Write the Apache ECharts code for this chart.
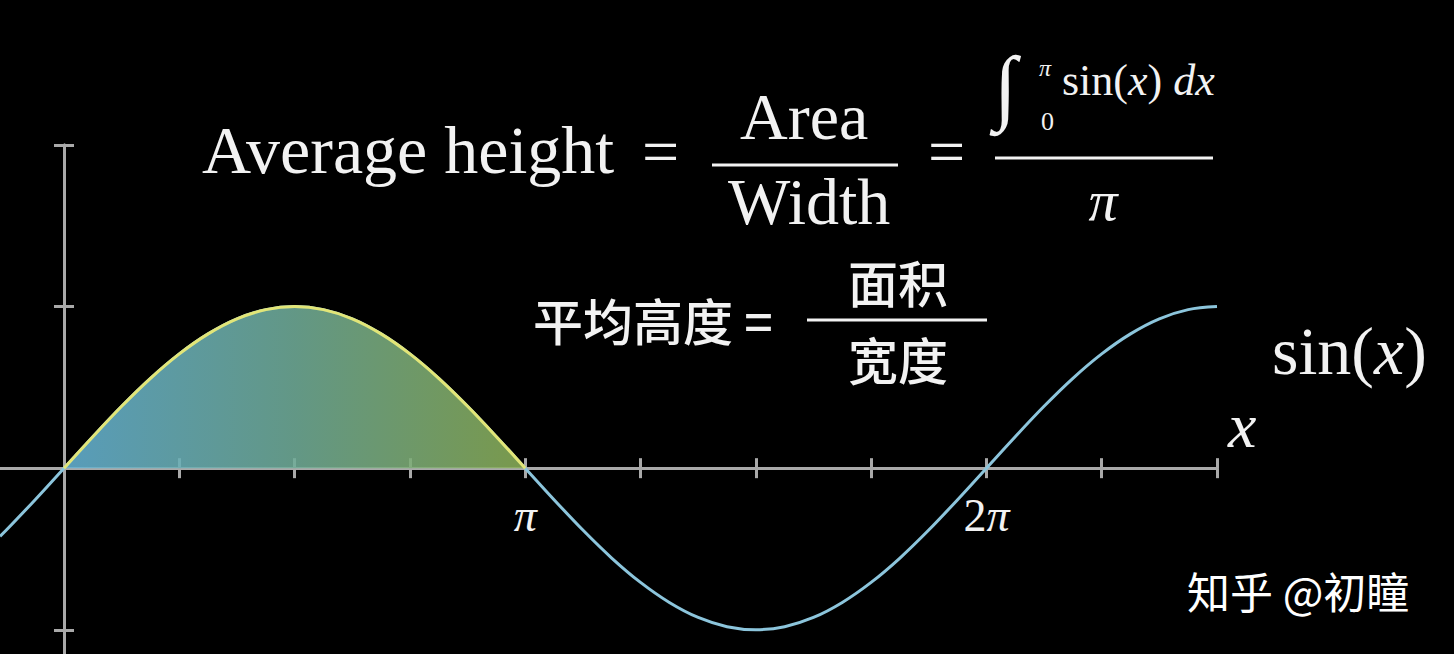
<!DOCTYPE html>
<html><head><meta charset="utf-8">
<script src="https://cdn.jsdelivr.net/npm/echarts@6/dist/echarts.min.js"></script>
<style>html,body{margin:0;padding:0;background:#000;overflow:hidden}#c{width:1454px;height:654px}</style>
</head><body><div id="c"></div>
<script>
// x in units of pi, y = height
const curveX = [-0.1388, -0.125, -0.0625, 0, 0.0625, 0.125, 0.1875, 0.25, 0.3125, 0.375, 0.4375, 0.5,
  0.5625, 0.625, 0.6875, 0.75, 0.8125, 0.875, 0.9375, 1, 1.0625, 1.125, 1.1875, 1.25, 1.3125, 1.375,
  1.4375, 1.5, 1.5625, 1.625, 1.6875, 1.75, 1.8125, 1.875, 1.9375, 2, 2.0625, 2.125, 2.1875, 2.25,
  2.3125, 2.375, 2.4375, 2.5];
const curveY = [-0.422, -0.383, -0.195, 0, 0.195, 0.383, 0.556, 0.707, 0.831, 0.924, 0.981, 1,
  0.981, 0.924, 0.831, 0.707, 0.556, 0.383, 0.195, 0, -0.195, -0.383, -0.556, -0.707, -0.831, -0.924,
  -0.981, -1, -0.981, -0.924, -0.831, -0.707, -0.556, -0.383, -0.195, 0, 0.195, 0.383, 0.556, 0.707,
  0.831, 0.924, 0.981, 1];
const areaFrom = 0, areaTo = 1;
const xTickValues = [0.25, 0.5, 0.75, 1, 1.25, 1.5, 1.75, 2, 2.25, 2.5];
const xLabelValues = [1, 2];
const xLabelTexts = ['π', '2π'];
const yTickValues = [-1, 1, 2];
const xRange = [-0.1388, 2.5];
const yRange = [-1.15, 2];

const curve = curveX.map((x, i) => [x, curveY[i]]);
const hump = curve.filter(p => p[0] >= areaFrom && p[0] <= areaTo);
const labelPoints = xLabelValues.map((v, i) => ({ value: [v, 0], name: xLabelTexts[i] }));

const AX = '#A9A9A9';
const serif = 'Liberation Serif';
const cjk = 'Noto Sans CJK SC';
const white = '#F2F2F2';

function xAxisDef(inside) {
  return {
    type: 'value', min: xRange[0], max: xRange[1], position: 'bottom',
    axisLine: { show: true, onZero: true, onZeroAxisIndex: 0, lineStyle: { color: AX, width: 3 } },
    axisTick: { show: true, inside: inside, length: 10, customValues: xTickValues, lineStyle: { color: AX, width: 3 } },
    axisLabel: { show: false },
    splitLine: { show: false }
  };
}
function yAxisDef(inside) {
  return {
    type: 'value', min: yRange[0], max: yRange[1], position: 'left',
    axisLine: { show: true, onZero: true, onZeroAxisIndex: 0, lineStyle: { color: AX, width: 3 } },
    axisTick: { show: true, inside: inside, length: 10, customValues: yTickValues, lineStyle: { color: AX, width: 3 } },
    axisLabel: { show: false },
    splitLine: { show: false }
  };
}

function txt(x, y, text, o) {
  o = o || {};
  const style = Object.assign({
    text: text, fill: o.fill || white,
    fontFamily: o.family || serif, fontSize: o.size || 66,
    fontStyle: o.style || 'normal', fontWeight: o.weight || 'normal',
    align: o.align || 'left', textAlign: o.align || 'left',
    verticalAlign: 'middle', textVerticalAlign: 'middle'
  }, o.rich ? { rich: o.rich } : {});
  return { type: 'text', x: x, y: y, z: 100, silent: true, style: style };
}
function bar(x1, x2, y) {
  return { type: 'line', z: 100, silent: true, shape: { x1: x1, y1: y, x2: x2, y2: y }, style: { stroke: white, lineWidth: 3 } };
}

const mathRich = (size, color) => ({
  r: { fontFamily: serif, fontSize: size, color: color },
  i: { fontFamily: serif, fontSize: size, fontStyle: 'italic', color: color }
});

const chart = echarts.init(document.getElementById('c'), null, { renderer: 'svg', width: 1454, height: 654 });
chart.setOption({
  backgroundColor: '#000',
  animation: false,
  grid: { left: 0, right: 237, top: 145, bottom: 0, containLabel: false, outerBoundsMode: 'none' },
  xAxis: [xAxisDef(false), xAxisDef(true)],
  yAxis: [yAxisDef(false), yAxisDef(true)],
  series: [
    {
      type: 'line', data: curve, symbol: 'none', smooth: 0.333, silent: true,
      lineStyle: { color: '#8CC5DC', width: 3, join: 'round' }, z: 3
    },
    {
      type: 'line', data: hump, symbol: 'none', smooth: 0.333, silent: true,
      lineStyle: { color: '#E2E577', width: 3, join: 'round' }, z: 4,
      areaStyle: {
        color: new echarts.graphic.LinearGradient(0, 0, 1, 0, [
          { offset: 0, color: 'rgba(100,178,212,0.88)' },
          { offset: 0.5, color: 'rgba(112,172,152,0.88)' },
          { offset: 1, color: 'rgba(138,174,86,0.88)' }
        ]), opacity: 1
      }
    },
    {
      type: 'scatter', data: labelPoints, symbol: 'circle', symbolSize: 1, silent: true, z: 5,
      itemStyle: { color: 'rgba(0,0,0,0)', opacity: 1 },
      label: {
        show: true, position: 'bottom', distance: 24, opacity: 1,
        formatter: p => p.name.replace(/(\d*)π/, (m, d) => (d ? '{n|' + d + '}' : '') + '{p|π}'),
        rich: {
          n: { fontFamily: serif, fontSize: 46, color: white },
          p: { fontFamily: serif, fontStyle: 'italic', fontSize: 46, color: white }
        }
      }
    }
  ],
  graphic: {
    elements: [
      txt(202, 150, 'Average height', { size: 68 }),
      txt(642, 151, '='),
      txt(740, 116, '{a|Ar}{b|ea}', { rich: {
        a: { fontFamily: serif, fontSize: 66, color: '#80B8CF' },
        b: { fontFamily: serif, fontSize: 66, color: '#90BAAE' } } }),
      bar(712, 898, 165),
      txt(728, 201, 'Width'),
      txt(928, 151, '='),
      txt(994, 86, '∫', { size: 83 }),
      txt(1039, 68, 'π', { size: 24, style: 'italic' }),
      txt(1041, 121, '0', { size: 26 }),
      txt(1062, 80, '{r|sin(}{i|x}{r|) }{i|dx}', { rich: mathRich(44, white) }),
      bar(995, 1213, 158),
      txt(1103, 200, 'π', { size: 58, style: 'italic', align: 'center' }),
      txt(533, 319, '平均高度 =', { family: cjk, size: 50, weight: 500 }),
      txt(848, 281, '{a|面}{b|积}', { rich: {
        a: { fontFamily: cjk, fontSize: 50, fontWeight: 500, color: '#7FB5CD' },
        b: { fontFamily: cjk, fontSize: 50, fontWeight: 500, color: '#8DB4A3' } } }),
      bar(807, 987, 320),
      txt(848, 358, '宽度', { family: cjk, size: 50, weight: 500 }),
      txt(1272, 351, '{r|sin(}{i|x}{r|)}', { rich: mathRich(68, '#89C2DA') }),
      txt(1228, 425, 'x', { size: 64, style: 'italic' }),
      txt(1187, 590, '知乎 @初瞳', { family: cjk, size: 43, weight: 'normal', fill: '#FFFFFF' })
    ]
  }
});
</script>
</body></html>
